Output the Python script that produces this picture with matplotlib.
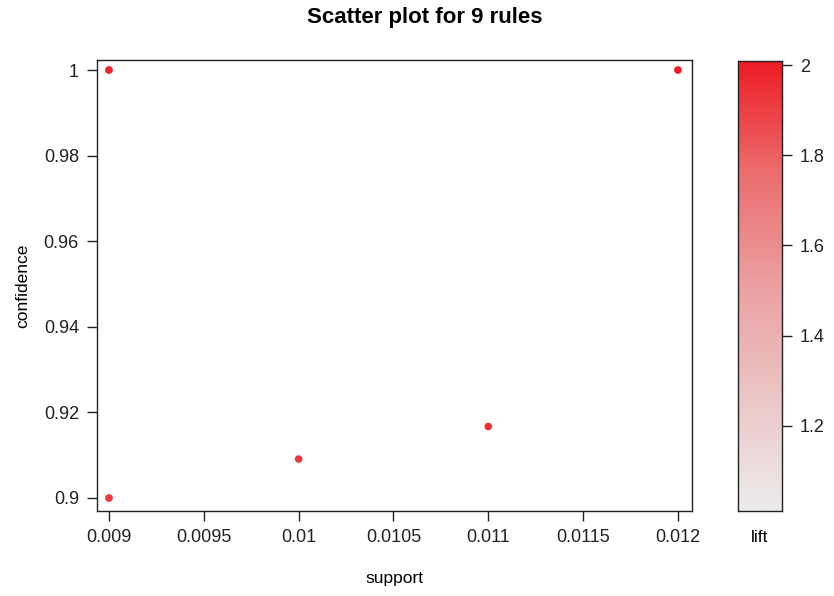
import matplotlib
matplotlib.use("Agg")
import matplotlib.pyplot as plt
import numpy as np
from matplotlib.colors import LinearSegmentedColormap, Normalize

# rules (support, confidence, lift); some share the same point
support = [0.009, 0.009, 0.009, 0.010, 0.011, 0.012, 0.012, 0.009, 0.009]
confidence = [1.0, 1.0, 0.9, 0.9091, 0.9167, 1.0, 1.0, 1.0, 0.9]
lift = [1.02, 1.50, 1.40, 1.93, 1.95, 1.60, 2.00, 1.98, 1.92]

lift_min, lift_max = 1.01, 2.01
cbar_ticks = [1.2, 1.4, 1.6, 1.8, 2.0]
cbar_labels = ["1.2", "1.4", "1.6", "1.8", "2"]
x_ticks = [0.009, 0.0095, 0.010, 0.0105, 0.011, 0.0115, 0.012]
x_labels = ["0.009", "0.0095", "0.01", "0.0105", "0.011", "0.0115", "0.012"]
y_ticks = [0.90, 0.92, 0.94, 0.96, 0.98, 1.0]
y_labels = ["0.9", "0.92", "0.94", "0.96", "0.98", "1"]

plt.rcParams['font.family'] = ['Liberation Sans', 'DejaVu Sans']

cmap = LinearSegmentedColormap.from_list(
    "lift", ["#ececec", "#ecc6c6", "#eba0a2", "#ec6e6e", "#ee1c25"])
norm = Normalize(lift_min, lift_max)

fig = plt.figure(figsize=(8.34, 5.96), dpi=100)
ax = fig.add_axes([97 / 834, 85 / 596, 595 / 834, 451 / 596])

order = np.argsort(lift)
ax.scatter(np.array(support)[order], np.array(confidence)[order],
           c=np.array(lift)[order], cmap=cmap, norm=norm, s=30, marker='o',
           edgecolors='none', zorder=3)

ax.set_xlim(0.008937, 0.012074)
ax.set_ylim(0.89696, 1.00234)
ax.set_xticks(x_ticks)
ax.set_xticklabels(x_labels)
ax.set_yticks(y_ticks)
ax.set_yticklabels(y_labels)
ax.tick_params(direction='out', length=7, width=1, labelsize=13, pad=6, colors='#222222')
for s in ax.spines.values():
    s.set_linewidth(1)
    s.set_color('#222222')
ax.set_xlabel("support", fontsize=12.5, labelpad=18)
ax.set_ylabel("confidence", fontsize=12.5, labelpad=10)

fig.text(425 / 834, 1 - 18 / 596, "Scatter plot for 9 rules", ha='center', va='center',
         fontsize=16, fontweight='bold')

# colour key
cax = fig.add_axes([738 / 834, 85 / 596, 44 / 834, 450 / 596])
grad = np.linspace(lift_min, lift_max, 256).reshape(-1, 1)
cax.imshow(grad, aspect='auto', cmap=cmap, norm=norm, origin='lower',
           extent=[0, 1, lift_min, lift_max])
cax.set_xticks([])
cax.yaxis.tick_right()
cax.set_yticks(cbar_ticks)
cax.set_yticklabels(cbar_labels)
cax.set_ylim(lift_min, lift_max)
cax.tick_params(direction='out', length=7, width=1, labelsize=13, pad=6, colors='#222222')
for s in cax.spines.values():
    s.set_linewidth(1)
    s.set_color('#222222')
cax.set_xlabel("lift", fontsize=12.5, labelpad=14)

fig.savefig("out.png", dpi=100, facecolor='white')
